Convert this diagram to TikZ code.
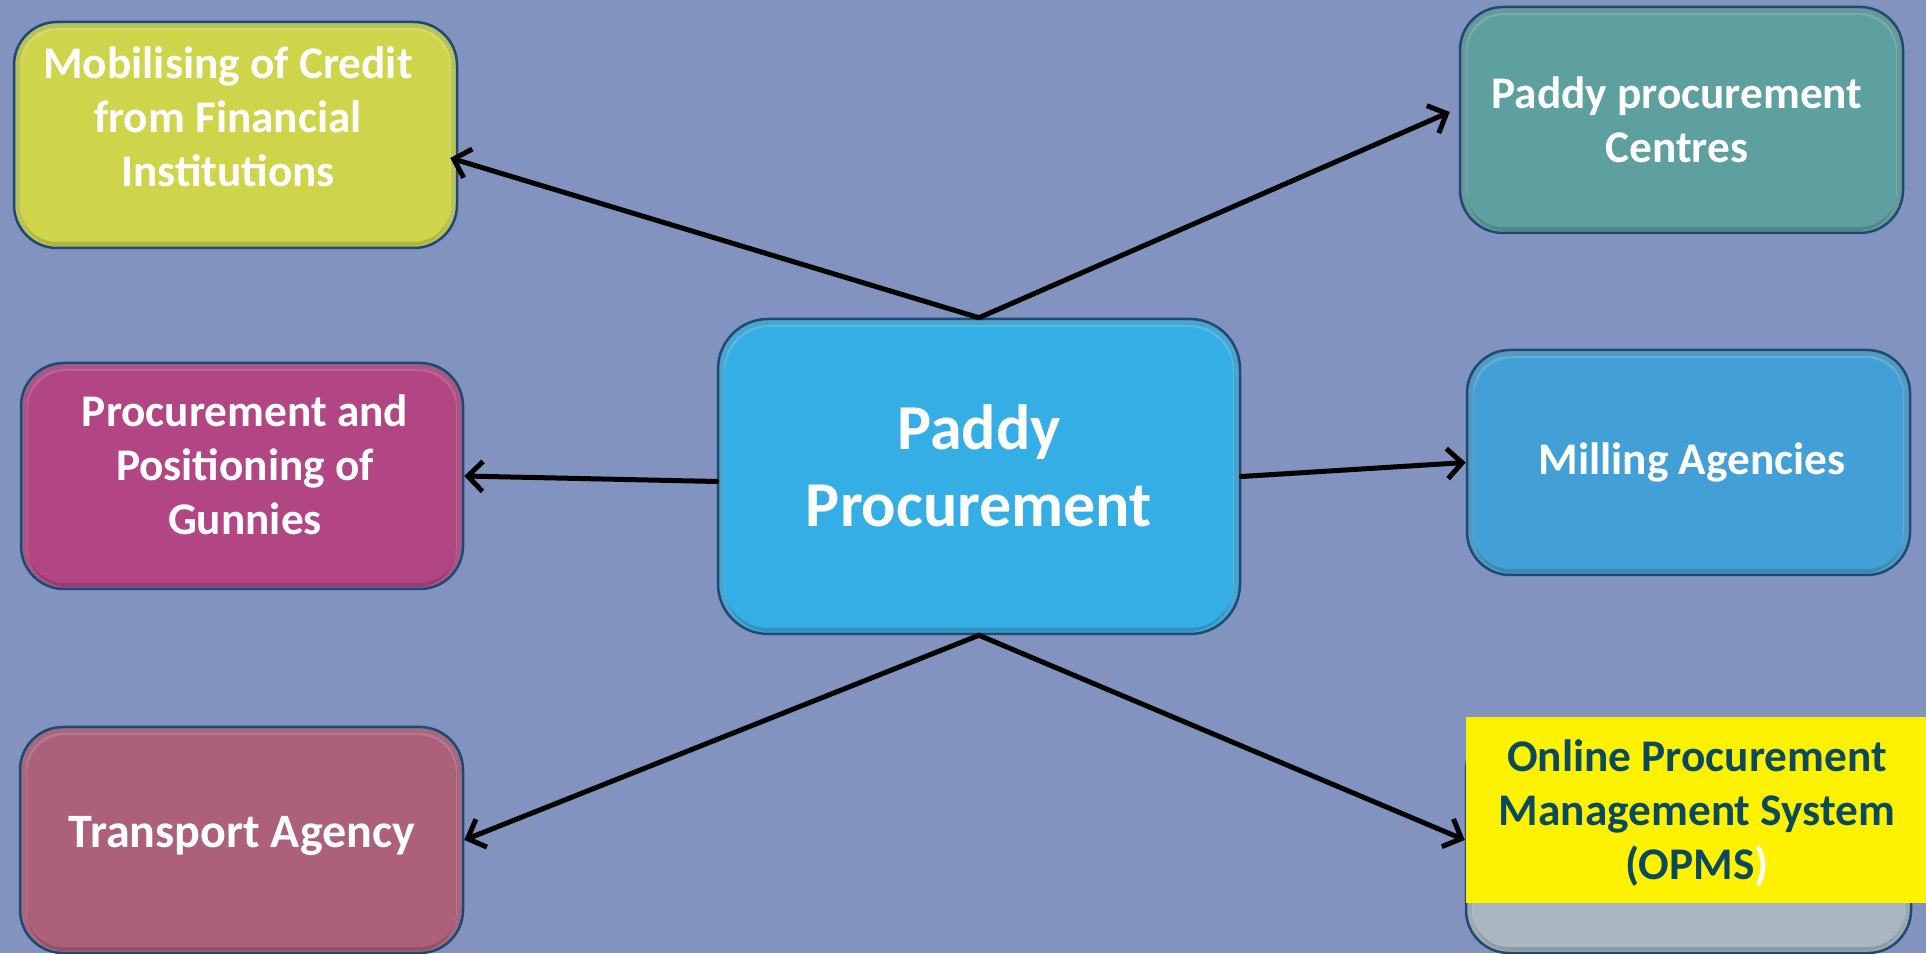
\documentclass[tikz,border=0pt]{standalone}
\usepackage{fontspec}
\setmainfont{Carlito}
\usetikzlibrary{arrows.meta,calc}
\definecolor{bgc}{HTML}{8193BE}
\definecolor{mobc}{HTML}{CED54B}
\definecolor{ppcc}{HTML}{5E9FA0}
\definecolor{cenc}{HTML}{35ADE5}
\definecolor{gunc}{HTML}{B24684}
\definecolor{trac}{HTML}{AD607A}
\definecolor{milc}{HTML}{43A0D6}
\definecolor{opgc}{HTML}{A9B7C0}
\definecolor{edgec}{HTML}{1C4A75}
\definecolor{opmstext}{HTML}{0B4A5C}
\tikzset{
  x=1pt,y=1pt,
  bevel/.style={path picture={
      \draw[black, opacity=0.15, line width=12pt, rounded corners=#1]
        (path picture bounding box.south west) rectangle (path picture bounding box.north east);
      \draw[white, opacity=0.15, line width=10pt, rounded corners=#1]
        ([xshift=2pt,yshift=-3pt]path picture bounding box.south west) rectangle ([xshift=-2pt,yshift=-3pt]path picture bounding box.north east);
    }},
  boxnode/.style={draw=edgec, line width=2.5pt, rounded corners=43pt, inner sep=0pt,
    minimum width=443pt, minimum height=226pt, bevel=43pt},
  lbl/.style={text=white, font=\fontsize{45.3}{54}\selectfont\bfseries, align=center, inner sep=0pt},
  conn/.style={line width=5pt, line cap=round, line join=round,
    -{Straight Barb[length=15pt,width=30pt,line width=5pt]}}
}
\begin{document}
\begin{tikzpicture}
\fill[bgc] (0,0) rectangle (1926,953);
\useasboundingbox (0,0) rectangle (1926,953);
% boxes
\node[boxnode, fill=mobc] (mob) at (235.5,818) {};
\node[boxnode, fill=ppcc] (ppc) at (1681.5,833) {};
\node[boxnode, fill=cenc, minimum width=522pt, minimum height=315pt, rounded corners=50pt, bevel=50pt] (cen) at (979,476.5) {};
\node[boxnode, fill=gunc, minimum width=442pt] (gun) at (242,477) {};
\node[boxnode, fill=milc, minimum height=225pt] (mil) at (1688.5,490.5) {};
\node[boxnode, fill=trac] (tra) at (241.5,113) {};
\node[boxnode, fill=opgc, minimum width=445pt] (opg) at (1688.5,113) {};
\node[fill=yellow, inner sep=0pt, minimum width=460pt, minimum height=186pt] (yel) at (1696,143) {};
% labels
\node[lbl] (mobt) at (228,836.5) {Mobilising of Credit\\from Financial\\Institutions};
\node[lbl] (ppct) at (1677,833.5) {Paddy procurement\\Centres};
\node[lbl, font=\fontsize{64}{77}\selectfont\bfseries] (cent) at (979,487) {Paddy\\Procurement};
\node[lbl] (gunt) at (245,488) {Procurement and\\Positioning of\\Gunnies};
\node[lbl] (milt) at (1692,490.5) {Milling Agencies};
\node[lbl, font=\fontsize{48}{57}\selectfont\bfseries] (trat) at (242,116.5) {Transport Agency};
\node[lbl, text=opmstext] (opmst) at (1697,139.5) {Online Procurement\\Management System\\(OPMS\textcolor{white}{)}};
% connectors
\draw[conn] (cen.north) -- ([xshift=-8pt,yshift=-23pt]mob.east);
\draw[conn] (cen.north) -- ([xshift=-9pt,yshift=8pt]ppc.west);
\draw[conn] ([yshift=-5pt]cen.west) -- (gun.east);
\draw[conn] (cen.east) -- (mil.west);
\draw[conn] (cen.south) -- (tra.east);
\draw[conn] (cen.south) -- (opg.west);
\end{tikzpicture}
\end{document}
